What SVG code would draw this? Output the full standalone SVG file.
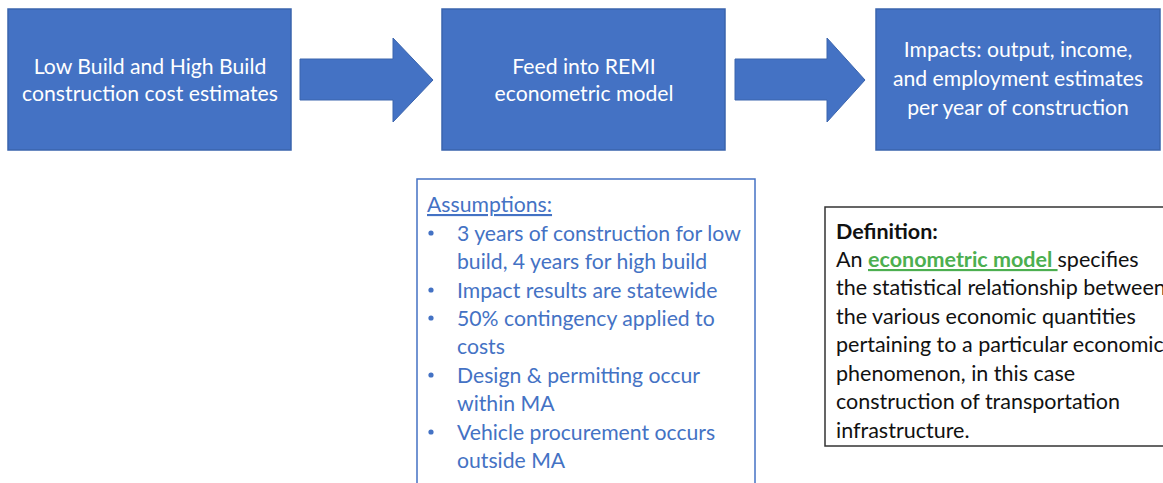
<svg xmlns="http://www.w3.org/2000/svg" width="1163" height="483" viewBox="0 0 1163 483">
<style>
.box{fill:#4472c4;stroke:#3a64ad;stroke-width:1.5}
.arrow{fill:#4472c4;stroke:#3a64ad;stroke-width:1}
.wt{font-family:Lato,"Liberation Sans",sans-serif;font-size:21.2px;fill:#ffffff;text-anchor:middle}
.bt{font-family:Lato,"Liberation Sans",sans-serif;font-size:21.2px;fill:#4472c4}
.bu{fill:#4472c4}
.dt{font-family:Lato,"Liberation Sans",sans-serif;font-size:21.5px;fill:#111111}
</style>
<rect width="1163" height="483" fill="#ffffff"/>
<g id="connectors">
<polygon class="arrow" points="300,59 393,59 393,38 433,80 393,122 393,100 300,100"/>
<polygon class="arrow" points="735,59 827,59 827,38 865,80 827,122 827,100 735,100"/>
</g>
<g id="node-costs">
<rect class="box" x="8" y="9" width="283" height="141"/>
<text class="wt" x="150" y="74">Low Build and High Build</text>
<text class="wt" x="150" y="101">construction cost estimates</text>
</g>
<g id="node-remi">
<rect class="box" x="442" y="9" width="283" height="141"/>
<text class="wt" x="584" y="74">Feed into REMI</text>
<text class="wt" x="584" y="101">econometric model</text>
</g>
<g id="node-impacts">
<rect class="box" x="876" y="9" width="284" height="141"/>
<text class="wt" x="1018" y="57">Impacts: output, income,</text>
<text class="wt" x="1018" y="86">and employment estimates</text>
<text class="wt" x="1018" y="115">per year of construction</text>
</g>
<g id="node-assumptions">
<rect x="417" y="179" width="338" height="320" fill="#ffffff" stroke="#4472c4" stroke-width="1.5"/>
<text class="bt" x="427" y="212" text-decoration="underline">Assumptions:</text>
<g class="bu">
<circle cx="431" cy="233" r="2.6"/>
<circle cx="431" cy="290" r="2.6"/>
<circle cx="431" cy="318" r="2.6"/>
<circle cx="431" cy="375" r="2.6"/>
<circle cx="431" cy="432" r="2.6"/>
</g>
<g class="bt">
<text x="457" y="241">3 years of construction for low</text>
<text x="457" y="269">build, 4 years for high build</text>
<text x="457" y="298">Impact results are statewide</text>
<text x="457" y="326">50% contingency applied to</text>
<text x="457" y="354">costs</text>
<text x="457" y="383">Design &amp; permitting occur</text>
<text x="457" y="411">within MA</text>
<text x="457" y="440">Vehicle procurement occurs</text>
<text x="457" y="468">outside MA</text>
</g>
</g>
<g id="node-definition">
<rect x="825" y="207" width="360" height="239" fill="#ffffff" stroke="#333333" stroke-width="1.5"/>
<text class="dt" x="836" y="239" font-weight="bold">Definition:</text>
<text class="dt" x="836" y="267">An <tspan fill="#4caf50" font-weight="bold" text-decoration="underline">econometric model </tspan>specifies</text>
<text class="dt" x="836" y="295">the statistical relationship between</text>
<text class="dt" x="836" y="324">the various economic quantities</text>
<text class="dt" x="836" y="352">pertaining to a particular economic</text>
<text class="dt" x="836" y="381">phenomenon, in this case</text>
<text class="dt" x="836" y="409">construction of transportation</text>
<text class="dt" x="836" y="438">infrastructure.</text>
</g>
</svg>
